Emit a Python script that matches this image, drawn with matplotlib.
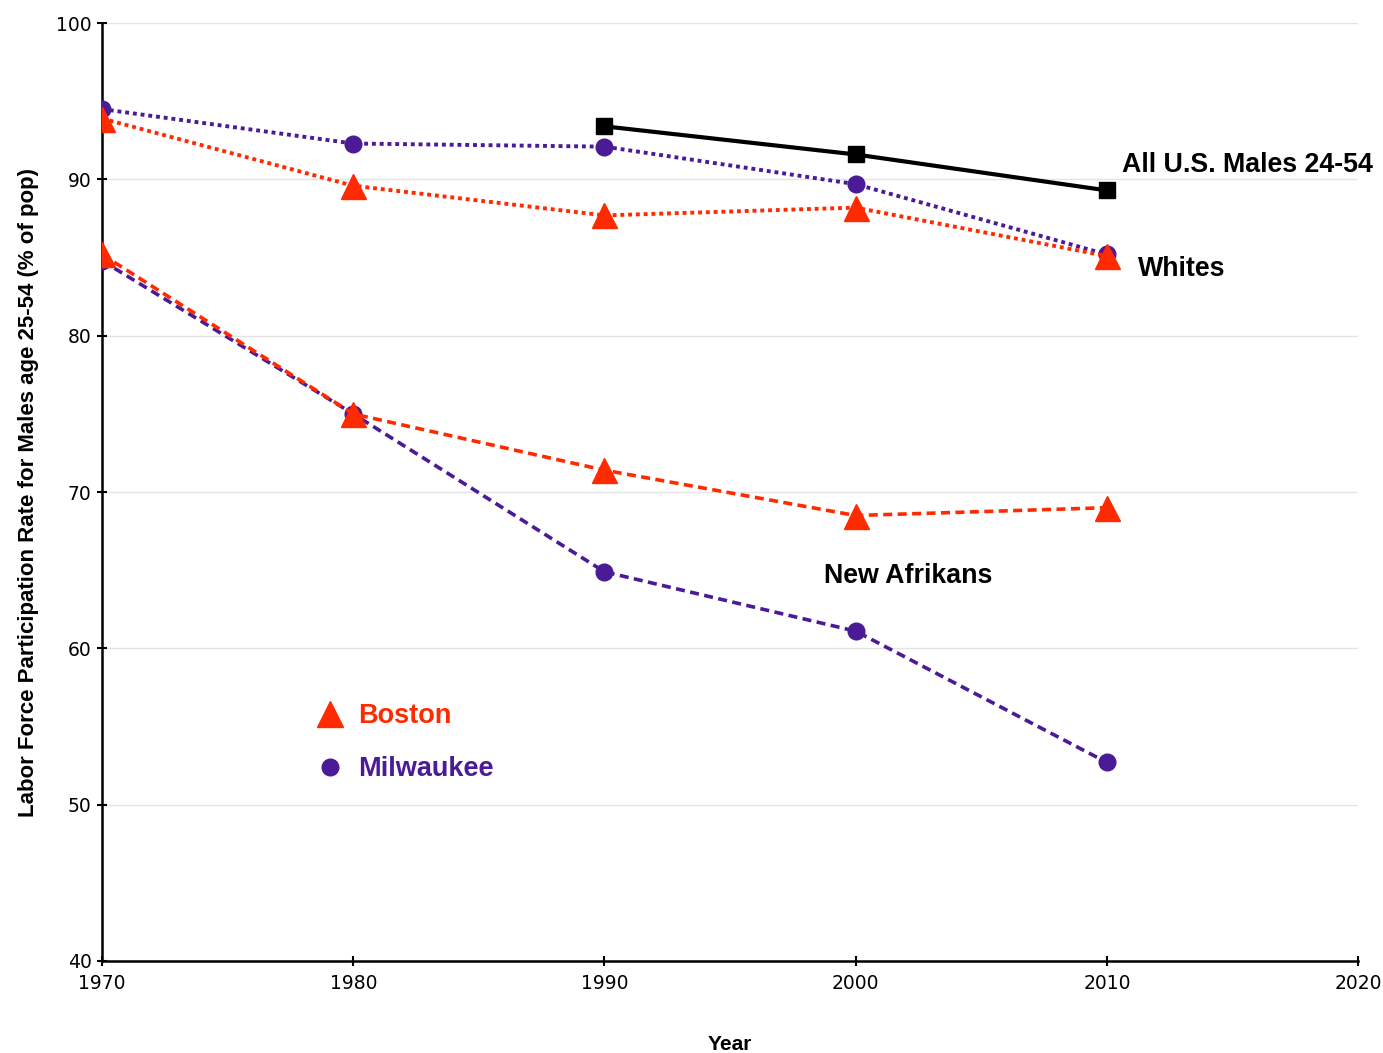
import matplotlib
matplotlib.use("Agg")
import matplotlib.pyplot as plt
from matplotlib.lines import Line2D

years = [1970, 1980, 1990, 2000, 2010]
boston_whites = [93.9, 89.6, 87.7, 88.2, 85.1]
milwaukee_whites = [94.5, 92.3, 92.1, 89.7, 85.2]
boston_black = [85.2, 75.0, 71.4, 68.5, 69.0]
milwaukee_black = [84.8, 75.0, 64.9, 61.1, 52.7]
us_years = [1990, 2000, 2010]
us_males = [93.4, 91.6, 89.3]

RED = "#FF2A00"
PURPLE = "#4B1A96"
BOLD = ["Liberation Sans", "DejaVu Sans"]

fig = plt.figure(figsize=(13.83, 10.53), dpi=100)
ax = fig.add_axes([0.0738, 0.0874, 0.9082, 0.8906])

DOT = (0, (1, 1))
DASH = (0, (2.5, 1.5))
ax.plot(years, milwaukee_black, color=PURPLE, lw=2.6, ls=DASH, marker="o", ms=12, zorder=3)
ax.plot(years, boston_black, color=RED, lw=2.6, ls=DASH, marker="^", ms=18, zorder=3)
ax.plot(years, milwaukee_whites, color=PURPLE, lw=2.8, ls=DOT, marker="o", ms=12, zorder=3)
ax.plot(years, boston_whites, color=RED, lw=2.8, ls=DOT, marker="^", ms=18, zorder=4)
ax.plot(us_years, us_males, color="black", lw=3, ls="-", marker="s", ms=11.5, zorder=5)

ax.set_xlim(1970, 2020)
ax.set_ylim(40, 100)
ax.set_xticks(range(1970, 2021, 10))
ax.set_yticks(range(40, 101, 10))
ax.yaxis.grid(True, color="#e4e4e4", lw=1)
ax.set_axisbelow(True)
for s in ["top", "right"]:
    ax.spines[s].set_visible(False)
for s in ["left", "bottom"]:
    ax.spines[s].set_linewidth(1.8)
ax.tick_params(direction="inout", length=7, width=1.5, labelsize=13.5)
ax.tick_params(axis="x", pad=6)
ax.tick_params(axis="y", pad=4)
for lab in ax.get_xticklabels() + ax.get_yticklabels():
    lab.set_fontfamily("DejaVu Sans")

ax.set_ylabel("Labor Force Participation Rate for Males age 25-54 (% of pop)",
              fontsize=16, fontweight="bold", family=BOLD, labelpad=12)
ax.set_xlabel("Year", fontsize=15, fontweight="bold", family=BOLD, labelpad=30)

ax.text(2010.6, 90.9, "All U.S. Males 24-54", fontsize=19.3, fontweight="bold", family=BOLD, va="center")
ax.text(2011.24, 84.25, "Whites", fontsize=19.3, fontweight="bold", family=BOLD, va="center")
ax.text(2002.1, 64.6, "New Afrikans", fontsize=19.3, fontweight="bold", family=BOLD, va="center", ha="center")

handles = [Line2D([], [], color=RED, marker="^", ms=19, ls="none"),
           Line2D([], [], color=PURPLE, marker="o", ms=12, ls="none")]
leg = ax.legend(handles, ["Boston", "Milwaukee"], loc="upper left",
                bbox_to_anchor=(0.1455, 0.301), frameon=False, labelcolor="linecolor",
                prop={"family": BOLD, "weight": "bold", "size": 19.5},
                handletextpad=0.3, labelspacing=1.0, handlelength=1.5)

fig.savefig("out.png", dpi=100)
